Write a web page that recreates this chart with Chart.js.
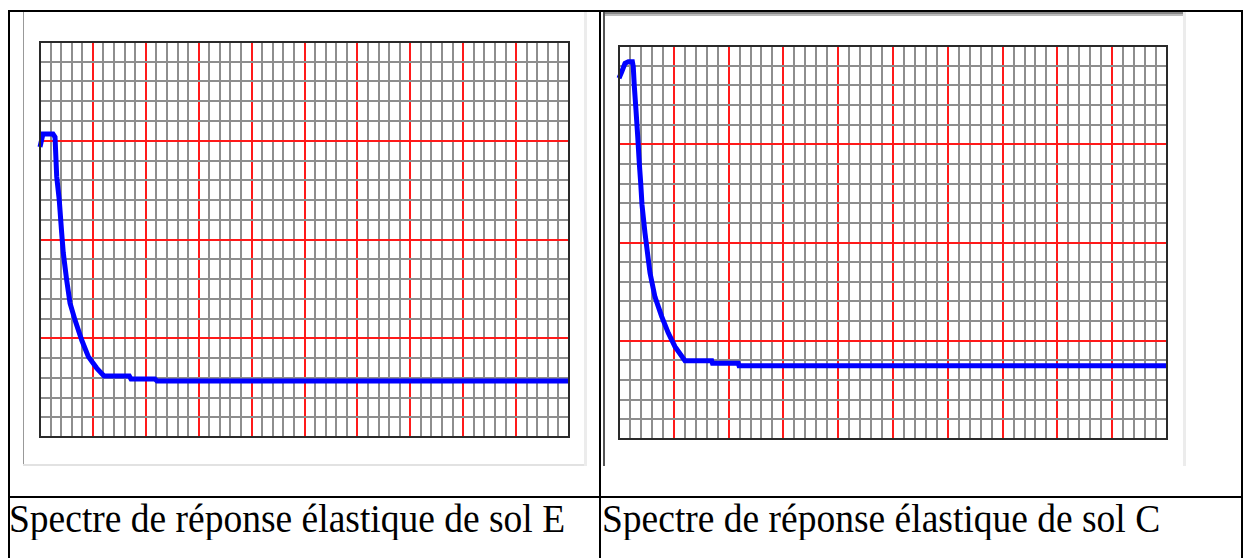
<!DOCTYPE html>
<html>
<head>
<meta charset="utf-8">
<script src="https://cdn.jsdelivr.net/npm/chart.js@4/dist/chart.umd.min.js"></script>
<style>
  html, body { margin:0; padding:0; background:#fff; }
  body { width:1244px; height:558px; position:relative; overflow:hidden; }
  .ln { position:absolute; }
  .cap { position:absolute; font-family:"Liberation Serif","Times New Roman",serif; font-size:37.5px; line-height:37px; color:#000; white-space:nowrap; transform:scaleY(1.05); transform-origin:left top; }
  canvas { position:absolute; }
</style>
</head>
<body>
<!-- cadre du tableau -->
<div class="ln" style="left:8px; top:10px; width:1235px; height:2px; background:#000;"></div>
<div class="ln" style="left:8px; top:10px; width:2px; height:548px; background:#000;"></div>
<div class="ln" style="left:599px; top:10px; width:2px; height:548px; background:#000;"></div>
<div class="ln" style="left:1241px; top:10px; width:2px; height:548px; background:#000;"></div>
<div class="ln" style="left:8px; top:496px; width:1235px; height:2px; background:#000;"></div>

<!-- cadre gris des captures -->
<div class="ln" style="left:23px; top:12px; width:1px; height:454px; background:#999;"></div>
<div class="ln" style="left:23px; top:464px; width:563px; height:2px; background:#e2e2e2;"></div>
<div class="ln" style="left:584px; top:12px; width:3px; height:454px; background:#ececec;"></div>

<div class="ln" style="left:603px; top:12px; width:581px; height:2px; background:#888;"></div>
<div class="ln" style="left:603px; top:14px; width:581px; height:2px; background:#bbb;"></div>
<div class="ln" style="left:603px; top:12px; width:2px; height:454px; background:#555;"></div>
<div class="ln" style="left:1183px; top:12px; width:3px; height:454px; background:#ececec;"></div>

<canvas id="solE"></canvas>
<canvas id="solC"></canvas>

<div class="cap" style="left:9px; top:499px;">Spectre de réponse élastique de sol E</div>
<div class="cap" style="left:602px; top:499px;">Spectre de réponse élastique de sol C</div>

<script>
// Sol E : période (unités de grille) / accélération (unités de grille)
const xE = [0, 0.28, 1.23, 1.42, 1.58, 1.82, 2.05, 2.2, 2.52, 2.84, 3.31, 3.94, 4.57, 5.36, 6.05, 8.44, 8.6, 10.87, 11.06, 50];
const yE = [14.68, 15.34, 15.34, 15.19, 13.18, 12.0, 10.33, 9.32, 7.95, 6.78, 5.92, 4.91, 4.07, 3.49, 3.09, 3.09, 2.94, 2.94, 2.84, 2.84];

// Sol C
const xC = [0, 0.25, 0.55, 0.85, 1.22, 1.3, 1.4, 1.55, 1.71, 1.85, 1.98, 2.1, 2.37, 2.83, 3.28, 3.9, 4.5, 5.11, 6.02, 8.46, 8.53, 10.88, 10.95, 50];
const yC = [18.36, 18.69, 19.12, 19.2, 19.2, 18.95, 17.93, 16.74, 15.38, 14.05, 13.03, 11.91, 10.48, 8.45, 7.23, 6.23, 5.39, 4.7, 3.98, 3.98, 3.85, 3.85, 3.73, 3.73];

// grille : 50 colonnes, 20 lignes, une ligne rouge toutes les 5
const xMax = 50, yMax = 20, major = 5;

function gridColor(ctx) {
  return ctx.tick.value % major === 0 ? '#ff1a1a' : '#8e8e8e';
}

function makeChart(id, xs, ys, box) {
  const pad = 3;
  const cv = document.getElementById(id);
  cv.style.left = (box.x - pad) + 'px';
  cv.style.top = (box.y - pad) + 'px';
  cv.width = box.w + 2 * pad;
  cv.height = box.h + 2 * pad;
  cv.style.width = cv.width + 'px';
  cv.style.height = cv.height + 'px';

  const axis = (max) => ({
    type: 'linear', min: 0, max: max,
    ticks: { display: false, stepSize: 1, maxTicksLimit: 200, autoSkip: false },
    grid: { color: gridColor, lineWidth: 2, drawTicks: false },
    border: { display: true, color: '#2a2a2a', width: 2 }
  });

  return new Chart(cv, {
    type: 'line',
    data: {
      datasets: [{
        data: xs.map((x, i) => ({ x: x, y: ys[i] })),
        borderColor: '#0000ff', borderWidth: 5,
        pointRadius: 0, tension: 0, fill: false,
        clip: 4
      }]
    },
    options: {
      responsive: false, animation: false,
      layout: { padding: pad },
      plugins: { legend: { display: false }, tooltip: { enabled: false } },
      scales: { x: axis(xMax), y: axis(yMax) }
    },
    plugins: [{
      id: 'frame',
      afterDraw(chart) {
        const a = chart.chartArea, c = chart.ctx;
        c.save();
        c.strokeStyle = '#2a2a2a';
        c.lineWidth = 2;
        c.strokeRect(a.left, a.top, a.right - a.left, a.bottom - a.top);
        c.restore();
      }
    }]
  });
}

makeChart('solE', xE, yE, { x: 40, y: 42, w: 529, h: 395 });
makeChart('solC', xC, yC, { x: 619, y: 46, w: 548, h: 393 });
</script>
</body>
</html>
